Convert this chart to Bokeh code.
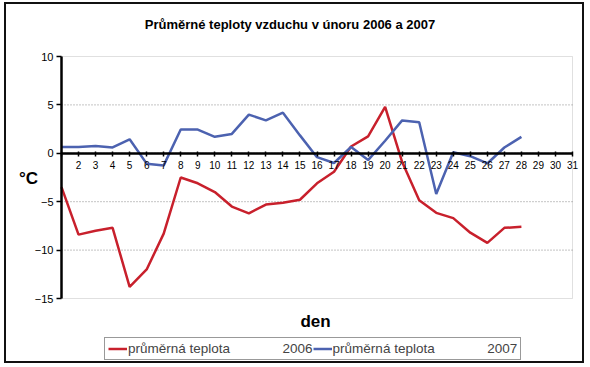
from bokeh.plotting import figure
from bokeh.models import (ColumnDataSource, FixedTicker, Legend, LegendItem, Label, BoxAnnotation)
from bokeh.embed import file_html
from bokeh.resources import INLINE

# ---- data ----
days = list(range(1, 29))
temp_2006 = [-3.5, -8.4, -8.0, -7.7, -13.8, -12.0, -8.3, -2.5, -3.1, -4.0,
             -5.5, -6.2, -5.3, -5.1, -4.8, -3.1, -1.9, 0.7, 1.75, 4.8,
             -0.9, -4.85, -6.15, -6.7, -8.2, -9.25, -7.7, -7.6]
temp_2007 = [0.65, 0.65, 0.75, 0.6, 1.45, -1.07, -1.25, 2.45, 2.45, 1.7,
             2.0, 4.0, 3.4, 4.2, 1.85, -0.4, -1.0, 0.65, -0.7, 1.3,
             3.4, 3.2, -4.2, 0.1, -0.3, -1.05, 0.6, 1.7]
x_ticks = list(range(1, 32))
y_ticks = [-15, -10, -5, 0, 5, 10]
title_text = "Průměrné teploty vzduchu v únoru 2006 a 2007"
x_label = "den"
y_label = "°C"
label_2006 = "průměrná teplota" + "\u00a0" * 14 + "2006"
label_2007 = "průměrná teplota" + "\u00a0" * 14 + "2007"

FONT = "Liberation Sans"
RED = "#c8202c"
BLUE = "#4c62b0"

# ---- layout (pixels inside the canvas) ----
W, H = 576, 357
PA_L, PA_R, PA_T, PA_B = 55, 566, 52, 294   # plot area box, from top-left
x0, x1 = x_ticks[0], x_ticks[-1]
y0, y1 = min(y_ticks), max(y_ticks)
sx = (PA_R - PA_L) / (x1 - x0)
sy = (PA_B - PA_T) / (y1 - y0)
x_range = (x0 - PA_L / sx, x1 + (W - PA_R) / sx)
y_range = (y0 - (H - PA_B) / sy, y1 + PA_T / sy)

p = figure(width=W, height=H, output_backend="svg", toolbar_location=None,
           x_range=x_range, y_range=y_range,
           min_border_left=0, min_border_right=0, min_border_top=0, min_border_bottom=0)
p.styles = {"outline": "2px solid #111", "outline-offset": "0px",
            "margin-left": "6px", "margin-top": "4px"}
p.background_fill_color = "white"
p.border_fill_color = "white"
p.outline_line_color = None
p.xgrid.visible = False
p.ygrid.visible = False

# plot-area border and dotted grid lines
p.add_layout(BoxAnnotation(left=x0, right=x1, bottom=y0, top=y1, fill_color=None,
                           line_color="#999999", line_width=1, level="underlay"))
grid_vals = [v for v in y_ticks if v not in (y0, y1)]
p.segment(x0=[x0] * len(grid_vals), x1=[x1] * len(grid_vals), y0=grid_vals, y1=grid_vals,
          line_color="#888888", line_dash="1 2", line_width=1)

src = ColumnDataSource(dict(day=days, t06=temp_2006, t07=temp_2007))
r06 = p.line("day", "t06", source=src, line_color=RED, line_width=2.5)
r07 = p.line("day", "t07", source=src, line_color=BLUE, line_width=2.5)

# y axis at day 1
ya = p.yaxis[0]
ya.fixed_location = x0
ya.bounds = (y0, y1)
ya.ticker = FixedTicker(ticks=y_ticks)
ya.axis_line_color = "black"
ya.axis_line_width = 2.5
ya.major_tick_line_color = "black"
ya.major_tick_line_width = 1.5
ya.major_tick_out = 5
ya.major_tick_in = 0
ya.minor_tick_line_color = None
ya.major_label_text_font = FONT
ya.major_label_text_font_size = "11px"
ya.major_label_text_color = "black"
ya.major_label_standoff = 3

# x axis at 0
xa = p.xaxis[0]
xa.fixed_location = 0
xa.bounds = (x0, x1)
xa.ticker = FixedTicker(ticks=x_ticks)
xa.major_label_overrides = {1: ""}
xa.axis_line_color = "black"
xa.axis_line_width = 2.5
xa.major_tick_line_color = "black"
xa.major_tick_line_width = 1.5
xa.major_tick_in = 2
xa.major_tick_out = 3
xa.minor_tick_line_color = None
xa.major_label_text_font = FONT
xa.major_label_text_font_size = "10px"
xa.major_label_text_color = "black"
xa.major_label_standoff = 5

# texts (screen px, from the canvas bottom-left)
p.add_layout(Label(x=283.5, y=H - 20, x_units="screen", y_units="screen", text=title_text,
                   text_font=FONT, text_font_style="bold", text_font_size="13px",
                   text_color="black", text_align="center", text_baseline="middle"))
p.add_layout(Label(x=22, y=H - 174, x_units="screen", y_units="screen", text=y_label,
                   text_font=FONT, text_font_style="bold", text_font_size="17px",
                   text_color="black", text_align="center", text_baseline="middle"))
p.add_layout(Label(x=309, y=H - 317, x_units="screen", y_units="screen", text=x_label,
                   text_font=FONT, text_font_style="bold", text_font_size="17px",
                   text_color="black", text_align="center", text_baseline="middle"))

legend = Legend(items=[LegendItem(label=label_2006, renderers=[r06]),
                       LegendItem(label=label_2007, renderers=[r07])],
                orientation="horizontal", location=(98, 1),
                label_text_font=FONT, label_text_font_size="13.5px",
                border_line_color="#333333", border_line_width=1,
                background_fill_color="white",
                glyph_width=19, glyph_height=13, label_standoff=1,
                spacing=0, padding=3, margin=0, label_height=13)
p.add_layout(legend)

open("out.html", "w").write(file_html(p, INLINE))
